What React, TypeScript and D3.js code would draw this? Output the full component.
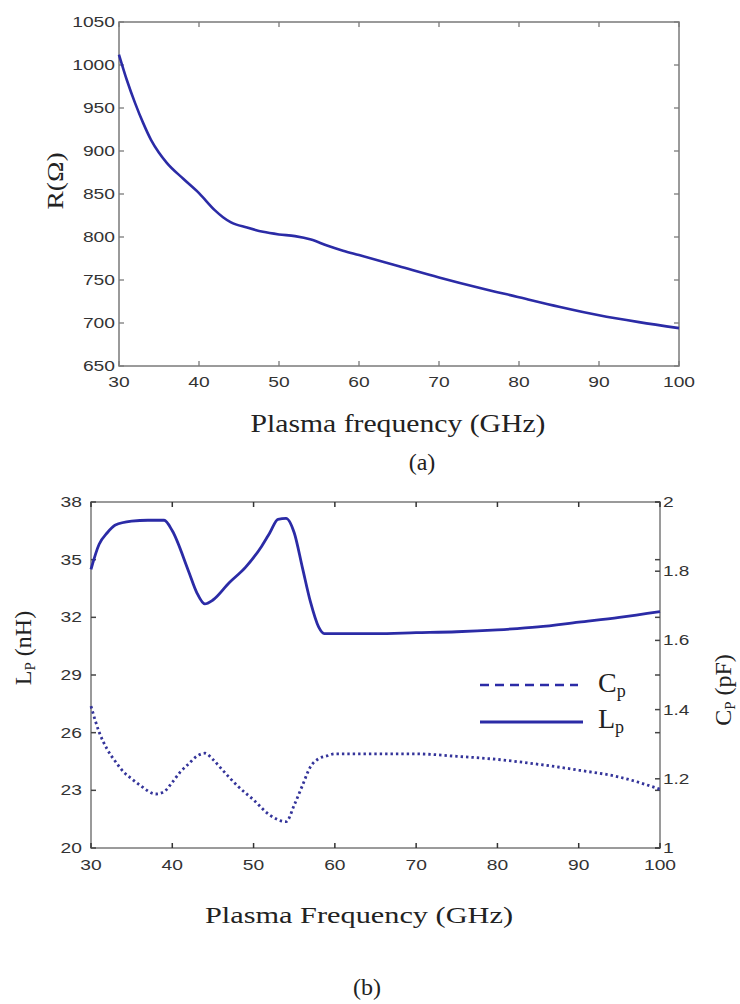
import React from 'react';
import * as d3 from 'd3';

// (a) resistance vs plasma frequency
const rFreq = [30, 31, 32, 33, 34, 35, 36, 38, 40, 42, 43, 44, 46, 48, 50, 52, 54, 56, 58, 60, 65, 70, 75, 80, 85, 90, 95, 100];
const rVal = [1012, 982, 956, 933, 913, 898, 886, 868, 851, 831, 823, 817, 811, 806, 803, 801, 797, 790, 784, 779, 766, 753, 741, 730, 719, 709, 701, 694];

// (b) inductance Lp (left axis) and capacitance Cp (right axis)
const lFreq = [30, 31, 32, 33, 35, 37, 39, 40, 42, 43, 44, 45, 47, 49, 51, 52, 53, 54, 55, 56, 57, 58, 58.7, 60, 65, 70, 75, 80, 85, 90, 95, 100];
const lVal = [34.5, 35.8, 36.4, 36.8, 37.0, 37.05, 37.05, 36.5, 34.4, 33.3, 32.7, 32.9, 33.8, 34.6, 35.7, 36.4, 37.1, 37.15, 36.4, 34.6, 32.8, 31.5, 31.15, 31.15, 31.15, 31.2, 31.25, 31.35, 31.5, 31.75, 32.0, 32.3];
const cFreq = [30, 31, 32, 33, 34, 35, 36, 38, 39, 40, 41, 42, 43, 44, 45, 46, 48, 50, 52, 54, 55, 56, 57, 58, 59, 60, 65, 70, 75, 80, 85, 90, 95, 100];
const cVal = [1.41, 1.335, 1.285, 1.25, 1.22, 1.2, 1.182, 1.156, 1.163, 1.19, 1.22, 1.243, 1.265, 1.274, 1.256, 1.23, 1.18, 1.139, 1.095, 1.076, 1.124, 1.18, 1.235, 1.258, 1.266, 1.272, 1.272, 1.272, 1.265, 1.256, 1.242, 1.225, 1.205, 1.17];

const xTicks = [30, 40, 50, 60, 70, 80, 90, 100];
const rTicks = [650, 700, 750, 800, 850, 900, 950, 1000, 1050];
const lTicks = [20, 23, 26, 29, 32, 35, 38];
const cTicks = [1, 1.2, 1.4, 1.6, 1.8, 2];
const cTickLabels = ['1', '1.2', '1.4', '1.6', '1.8', '2'];

const AXIS = '#7a7a7a';
const LINE = '#2b2ba6';
const SANS = 'Liberation Sans, Arial, sans-serif';
const SERIF = 'Liberation Serif, Times New Roman, serif';
const TK = 5;

const digitW = (s: string) => s.split('').reduce((a, c) => a + (c === '.' ? 5 : 10.7), 0);

function Tick({ x, y, s, anchor, baseline }: { x: number; y: number; s: string; anchor: string; baseline?: string }) {
  return (
    <text x={x} y={y} textAnchor={anchor} dominantBaseline={baseline} fontFamily={SANS} fontSize={14}
      fill="#333" textLength={digitW(s)} lengthAdjust="spacingAndGlyphs">{s}</text>
  );
}

export default function App() {
  // chart (a)
  const xa = d3.scaleLinear().domain([30, 100]).range([119, 679]);
  const ya = d3.scaleLinear().domain([650, 1050]).range([366, 22]);
  const lineA = d3.line<number>().x((_, i) => xa(rFreq[i])).y(d => ya(d)).curve(d3.curveMonotoneX);

  // chart (b)
  const xb = d3.scaleLinear().domain([30, 100]).range([91, 660]);
  const yl = d3.scaleLinear().domain([20, 38]).range([848, 502]);
  const yc = d3.scaleLinear().domain([1, 2]).range([848, 502]);
  const lineL = d3.line<number>().x((_, i) => xb(lFreq[i])).y(d => yl(d)).curve(d3.curveMonotoneX);
  const lineC = d3.line<number>().x((_, i) => xb(cFreq[i])).y(d => yc(d)).curve(d3.curveMonotoneX);

  const [a0, a1] = xa.range();
  const [aB, aT] = ya.range();
  const [b0, b1] = xb.range();
  const [bB, bT] = yl.range();

  return (
    <svg width={740} height={1004} style={{ position: 'absolute', left: 0, top: 0, background: '#fff' }}>
      {/* ---------- (a) ---------- */}
      <rect x={a0} y={aT} width={a1 - a0} height={aB - aT} fill="none" stroke={AXIS} strokeWidth={1.5} />
      {xTicks.map(t => (
        <g key={'xa' + t}>
          <line x1={xa(t)} x2={xa(t)} y1={aB} y2={aB - TK} stroke={AXIS} strokeWidth={1.3} />
          <line x1={xa(t)} x2={xa(t)} y1={aT} y2={aT + TK} stroke={AXIS} strokeWidth={1.3} />
          <Tick x={xa(t)} y={387} s={String(t)} anchor="middle" />
        </g>
      ))}
      {rTicks.map(t => (
        <g key={'ya' + t}>
          <line x1={a0} x2={a0 + TK} y1={ya(t)} y2={ya(t)} stroke={AXIS} strokeWidth={1.3} />
          <line x1={a1} x2={a1 - TK} y1={ya(t)} y2={ya(t)} stroke={AXIS} strokeWidth={1.3} />
          <Tick x={115} y={ya(t)} s={String(t)} anchor="end" baseline="central" />
        </g>
      ))}
      <path d={lineA(rVal) || ''} fill="none" stroke={LINE} strokeWidth={2.6} strokeLinejoin="round" />
      <text x={398} y={432} textAnchor="middle" fontFamily={SERIF} fontSize={26} fill="#222"
        textLength={295} lengthAdjust="spacingAndGlyphs">Plasma frequency (GHz)</text>
      <text transform="translate(63,181) rotate(-90)" textAnchor="middle" fontFamily={SERIF} fontSize={24} fill="#222"
        textLength={57} lengthAdjust="spacingAndGlyphs">R(Ω)</text>
      <text x={422} y={470} textAnchor="middle" fontFamily={SERIF} fontSize={24} fill="#222">(a)</text>

      {/* ---------- (b) ---------- */}
      <rect x={b0} y={bT} width={b1 - b0} height={bB - bT} fill="none" stroke={AXIS} strokeWidth={1.5} />
      {xTicks.map(t => (
        <g key={'xb' + t}>
          <line x1={xb(t)} x2={xb(t)} y1={bB} y2={bB - TK} stroke="#333" strokeWidth={1.5} />
          <line x1={xb(t)} x2={xb(t)} y1={bT} y2={bT + TK} stroke="#333" strokeWidth={1.5} />
          <Tick x={xb(t)} y={870} s={String(t)} anchor="middle" />
        </g>
      ))}
      {lTicks.map(t => (
        <g key={'yl' + t}>
          <line x1={b0} x2={b0 + TK} y1={yl(t)} y2={yl(t)} stroke="#444" strokeWidth={1.5} />
          <line x1={b1} x2={b1 - TK} y1={yl(t)} y2={yl(t)} stroke="#444" strokeWidth={1.5} />
          <Tick x={82} y={yl(t)} s={String(t)} anchor="end" baseline="central" />
        </g>
      ))}
      {cTicks.map((t, i) => (
        <g key={'yc' + t}>
          <line x1={b1} x2={b1 - TK} y1={yc(t)} y2={yc(t)} stroke="#444" strokeWidth={1.5} />
          <Tick x={663} y={yc(t)} s={cTickLabels[i]} anchor="start" baseline="central" />
        </g>
      ))}
      <path d={lineC(cVal) || ''} fill="none" stroke="#34349a" strokeWidth={2.8} strokeDasharray="2.4 3" />
      <path d={lineL(lVal) || ''} fill="none" stroke={LINE} strokeWidth={2.8} strokeLinejoin="round" />

      {/* legend */}
      <line x1={480} x2={578} y1={685} y2={685} stroke={LINE} strokeWidth={2.6} strokeDasharray="9 6" />
      <line x1={480} x2={583} y1={722} y2={722} stroke={LINE} strokeWidth={2.8} />
      <text x={598} y={692} fontFamily={SERIF} fontSize={28} fill="#222">C<tspan fontSize={18} dy={5}>p</tspan></text>
      <text x={598} y={728} fontFamily={SERIF} fontSize={28} fill="#222">L<tspan fontSize={18} dy={5}>p</tspan></text>

      <text transform="translate(31,648) rotate(-90)" textAnchor="middle" fontFamily={SERIF} fontSize={24} fill="#222">
        L<tspan fontSize={15} dy={4}>P</tspan><tspan dy={-4}> (nH)</tspan>
      </text>
      <text transform="translate(731,690) rotate(-90)" textAnchor="middle" fontFamily={SERIF} fontSize={24} fill="#222">
        C<tspan fontSize={15} dy={4}>P</tspan><tspan dy={-4}> (pF)</tspan>
      </text>
      <text x={359} y={923} textAnchor="middle" fontFamily={SERIF} fontSize={24} fill="#222"
        textLength={308} lengthAdjust="spacingAndGlyphs">Plasma Frequency (GHz)</text>
      <text x={367} y={995} textAnchor="middle" fontFamily={SERIF} fontSize={24} fill="#222">(b)</text>
    </svg>
  );
}
